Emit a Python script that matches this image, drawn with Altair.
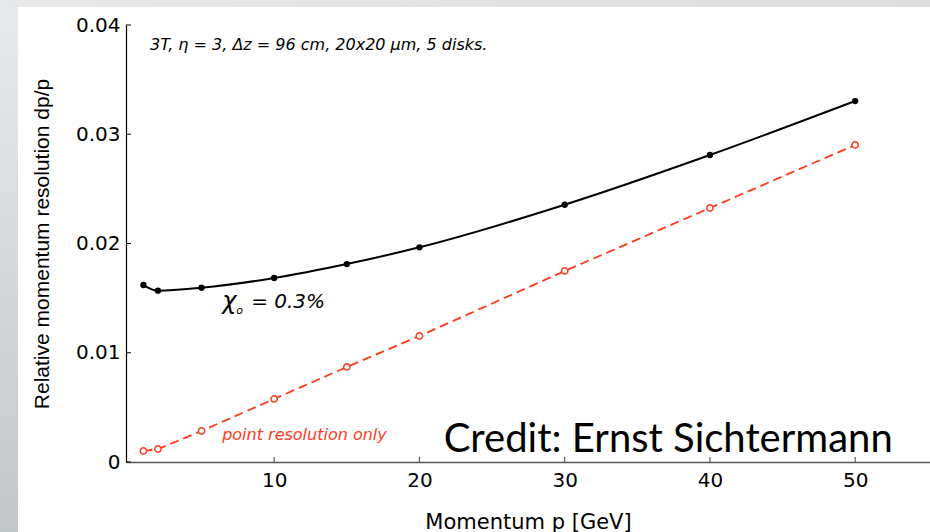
import altair as alt
import pandas as pd

# Momentum points (GeV) and relative momentum resolution dp/p
momentum = [1, 2, 5, 10, 15, 20, 30, 40, 50]
res_with_material = [0.0162, 0.01568, 0.01595, 0.01684, 0.01812, 0.01965, 0.02355, 0.0281, 0.03304]
res_point_only = [0.00101, 0.00119, 0.00284, 0.00577, 0.0087, 0.01153, 0.01748, 0.02325, 0.02902]

x_tick_values = [10, 20, 30, 40, 50]
y_tick_values = [0, 0.01, 0.02, 0.03, 0.04]

W, H = 804, 437
FONT = "DejaVu Sans"
TITLE_FONT = "Liberation Sans"
RED = "#ff3a1c"

xs = alt.Scale(domain=[-0.2, 55.15], nice=False, zero=False)
ys = alt.Scale(domain=[0, 0.04], nice=False, zero=False)

df = pd.DataFrame({
    "p": momentum,
    "total": res_with_material,
    "point": res_point_only,
})

one = pd.DataFrame({"k": [0]})

# slide frame: thin grey band on top and a shaded strip on the left
left_strip = alt.Chart(one).mark_rect(
    color=alt.LinearGradient(
        gradient="linear",
        stops=[alt.GradientStop(offset=0, color="#e9eaeb"),
               alt.GradientStop(offset=1, color="#c2c7c9")],
        x1=0, x2=0, y1=0, y2=1,
    )
).encode(x=alt.value(-126), x2=alt.value(-108), y=alt.value(-25), y2=alt.value(507))

top_strip = alt.Chart(one).mark_rect(
    color=alt.LinearGradient(
        gradient="linear",
        stops=[alt.GradientStop(offset=0, color="#e7e8e9"),
               alt.GradientStop(offset=1, color="#dcdedf")],
        x1=0, x2=1, y1=0, y2=0,
    )
).encode(x=alt.value(-126), x2=alt.value(W), y=alt.value(-25), y2=alt.value(-18))

x_axis = alt.Axis(
    values=x_tick_values, format="d", tickSize=0, labelPadding=8,
    labelFont=FONT, labelFontSize=20,
    domainColor="#5a5a5a", domainWidth=1.5, grid=False,
    title="Momentum p [GeV]", titleFont=FONT, titleFontSize=21, titlePadding=21,
)
y_axis = alt.Axis(
    values=y_tick_values, format=".2~f", tickSize=0, labelPadding=6,
    labelFont=FONT, labelFontSize=20,
    domainColor="#000000", domainWidth=1.2, grid=False,
    title="Relative momentum resolution dp/p", titleFont=TITLE_FONT, titleFontSize=21,
    titlePadding=23,
)

line_total = alt.Chart(df).mark_line(
    color="black", strokeWidth=2, interpolate="monotone"
).encode(
    x=alt.X("p:Q", scale=xs, axis=x_axis),
    y=alt.Y("total:Q", scale=ys, axis=y_axis),
)
pts_total = alt.Chart(df).mark_point(
    filled=True, color="black", size=40, opacity=1
).encode(x=alt.X("p:Q", scale=xs), y=alt.Y("total:Q", scale=ys))

line_point = alt.Chart(df).mark_line(
    color=RED, strokeWidth=1.8, strokeDash=[9, 5]
).encode(x=alt.X("p:Q", scale=xs), y=alt.Y("point:Q", scale=ys))
pts_point = alt.Chart(df).mark_point(
    filled=True, fill="white", stroke=RED, strokeWidth=1.5, size=40, opacity=1
).encode(x=alt.X("p:Q", scale=xs), y=alt.Y("point:Q", scale=ys))

# inward tick marks
x_ticks = alt.Chart(pd.DataFrame({"v": x_tick_values})).mark_rule(
    color="#5a5a5a", strokeWidth=1.2
).encode(x=alt.X("v:Q", scale=xs), y=alt.value(H), y2=alt.value(H - 5))
y_ticks = alt.Chart(pd.DataFrame({"v": y_tick_values})).mark_rule(
    color="black", strokeWidth=1
).encode(y=alt.Y("v:Q", scale=ys), x=alt.value(0), x2=alt.value(5))

# annotations
setup = alt.Chart(pd.DataFrame({"x": [1.46], "y": [0.03817],
                                "t": ["3T, η = 3, Δz = 96 cm, 20x20 μm, 5 disks."]})).mark_text(
    align="left", baseline="middle", font=FONT, fontSize=16, fontStyle="italic", color="black"
).encode(x=alt.X("x:Q", scale=xs), y=alt.Y("y:Q", scale=ys), text="t:N")

chi_df = pd.DataFrame({"x": [6.42], "y": [0.01467]})
chi = alt.Chart(chi_df).mark_text(
    align="left", baseline="middle", font=FONT, fontSize=24, fontStyle="italic", color="black", text="χ"
).encode(x=alt.X("x:Q", scale=xs), y=alt.Y("y:Q", scale=ys))
chi_sub = alt.Chart(chi_df).mark_text(
    align="left", baseline="middle", font=FONT, fontSize=11, fontStyle="italic", color="black",
    text="o", dx=14, dy=9
).encode(x=alt.X("x:Q", scale=xs), y=alt.Y("y:Q", scale=ys))
chi_val = alt.Chart(chi_df).mark_text(
    align="left", baseline="middle", font=FONT, fontSize=20, fontStyle="italic", color="black",
    text="= 0.3%", dx=29
).encode(x=alt.X("x:Q", scale=xs), y=alt.Y("y:Q", scale=ys))

point_label = alt.Chart(pd.DataFrame({"x": [6.42], "y": [0.00247], "t": ["point resolution only"]})).mark_text(
    align="left", baseline="middle", font=FONT, fontSize=16, fontStyle="italic", color=RED
).encode(x=alt.X("x:Q", scale=xs), y=alt.Y("y:Q", scale=ys), text="t:N")

credit = alt.Chart(pd.DataFrame({"x": [37.13], "y": [0.00091], "t": ["Credit: Ernst Sichtermann"]})).mark_text(
    align="center", baseline="alphabetic", font="Lato", fontSize=40, color="black"
).encode(x=alt.X("x:Q", scale=xs), y=alt.Y("y:Q", scale=ys), text="t:N")

chart = alt.layer(
    left_strip, top_strip,
    line_total, line_point, pts_total, pts_point,
    x_ticks, y_ticks,
    setup, chi, chi_sub, chi_val, point_label, credit,
).properties(
    width=W, height=H,
    padding={"left": 126, "top": 25, "right": 0, "bottom": 70},
    autosize=alt.AutoSizeParams(type="none"),
    background="white",
).configure_view(
    stroke=None
).configure_axis(
    labelColor="black", titleFontWeight="normal", titleColor="black",
)

chart.save("out.html", embed_options={"renderer": "svg", "actions": False})
